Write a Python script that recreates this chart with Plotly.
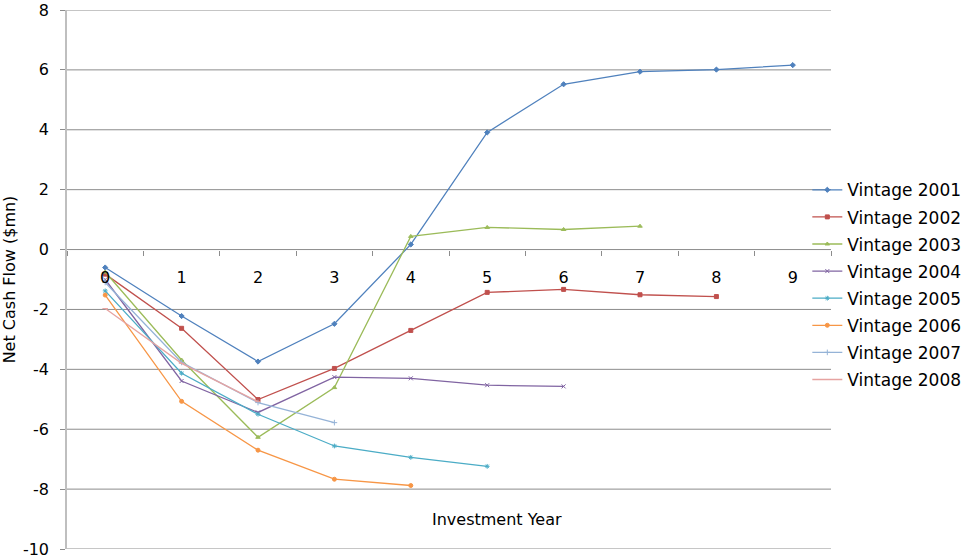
import plotly.graph_objects as go

years = ["0", "1", "2", "3", "4", "5", "6", "7", "8", "9"]

v2001 = [-0.60, -2.22, -3.74, -2.48, 0.17, 3.91, 5.52, 5.94, 6.01, 6.16]
v2002 = [-0.82, -2.63, -5.01, -3.97, -2.70, -1.43, -1.33, -1.51, -1.57]
v2003 = [-0.75, -3.69, -6.27, -4.61, 0.44, 0.74, 0.67, 0.78]
v2004 = [-1.00, -4.39, -5.44, -4.26, -4.30, -4.53, -4.57]
v2005 = [-1.38, -4.13, -5.50, -6.56, -6.94, -7.24]
v2006 = [-1.52, -5.07, -6.70, -7.67, -7.88]
v2007 = [-1.10, -3.77, -5.11, -5.78]
v2008 = [-1.97, -3.80, -5.08]

y_ticks = [-10, -8, -6, -4, -2, 0, 2, 4, 6, 8]
y_labels = ["-10", "-8", "-6", "-4", "-2", "0", "2", "4", "6", "8"]

series = [
    ("Vintage 2001", v2001, "#4F81BD", "diamond"),
    ("Vintage 2002", v2002, "#C0504D", "square"),
    ("Vintage 2003", v2003, "#9BBB59", "triangle-up"),
    ("Vintage 2004", v2004, "#8064A2", "x-thin-open"),
    ("Vintage 2005", v2005, "#4BACC6", "asterisk-open"),
    ("Vintage 2006", v2006, "#F79646", "circle"),
    ("Vintage 2007", v2007, "#95B3D7", "cross-thin-open"),
    ("Vintage 2008", v2008, "#E6A3A1", "line-ew-open"),
]

FONT = "DejaVu Sans"
GRID = "#8C8C8C"

fig = go.Figure()

# horizontal gridlines, the one at 0 doubling as the category axis line
for yv in y_ticks:
    fig.add_shape(type="line", xref="paper", yref="y",
                  x0=0, x1=1, y0=yv, y1=yv,
                  line=dict(color=GRID, width=1), layer="below")

for name, vals, color, sym in series:
    fig.add_trace(go.Scatter(
        x=years[:len(vals)], y=vals, name=name, legendgroup=name,
        mode="lines+markers",
        line=dict(color=color, width=1.3),
        marker=dict(symbol=sym, size=4, color=color,
                    line=dict(color=color, width=1)),
    ))

fig.update_layout(
    width=970, height=559,
    margin=dict(l=67, r=139, t=10, b=10, autoexpand=False),
    paper_bgcolor="white", plot_bgcolor="white",
    font=dict(family=FONT, size=16, color="#000000"),
    showlegend=True,
    legend=dict(
        x=0.969, xanchor="left", y=0.699, yanchor="top",
        bgcolor="rgba(0,0,0,0)", itemwidth=30,
        font=dict(family=FONT, size=17, color="#000000"),
        tracegroupgap=2,
    ),
    xaxis=dict(
        type="category", categoryorder="array", categoryarray=years,
        range=[-0.5, 9.5],
        anchor="free", position=10 / 18,
        showgrid=False, zeroline=False,
        showline=False, automargin=False,
        ticks="outside", tickson="boundaries", ticklen=5, tickcolor=GRID,
        tickfont=dict(family=FONT, size=16, color="#000000"),
        ticklabelstandoff=16, ticklabeloverflow="allow",
    ),
    yaxis=dict(
        range=[-10, 8], automargin=False,
        tickmode="array", tickvals=y_ticks, ticktext=y_labels,
        showgrid=False, zeroline=False,
        showline=True, linecolor="#BFBFBF", linewidth=1.5,
        ticks="outside", ticklen=5, tickcolor=GRID,
        tickfont=dict(family=FONT, size=16, color="#000000"),
        ticklabelstandoff=8, ticklabeloverflow="allow",
        title=dict(text="Net Cash Flow ($mn)", standoff=6,
                   font=dict(family=FONT, size=16, color="#000000")),
    ),
)

fig.add_annotation(
    text="Investment Year", xref="paper", yref="paper",
    x=0.563, y=(-9.0 + 10) / 18, yanchor="middle", showarrow=False,
    font=dict(family=FONT, size=16, color="#000000"),
)

fig.write_html("out.html")
